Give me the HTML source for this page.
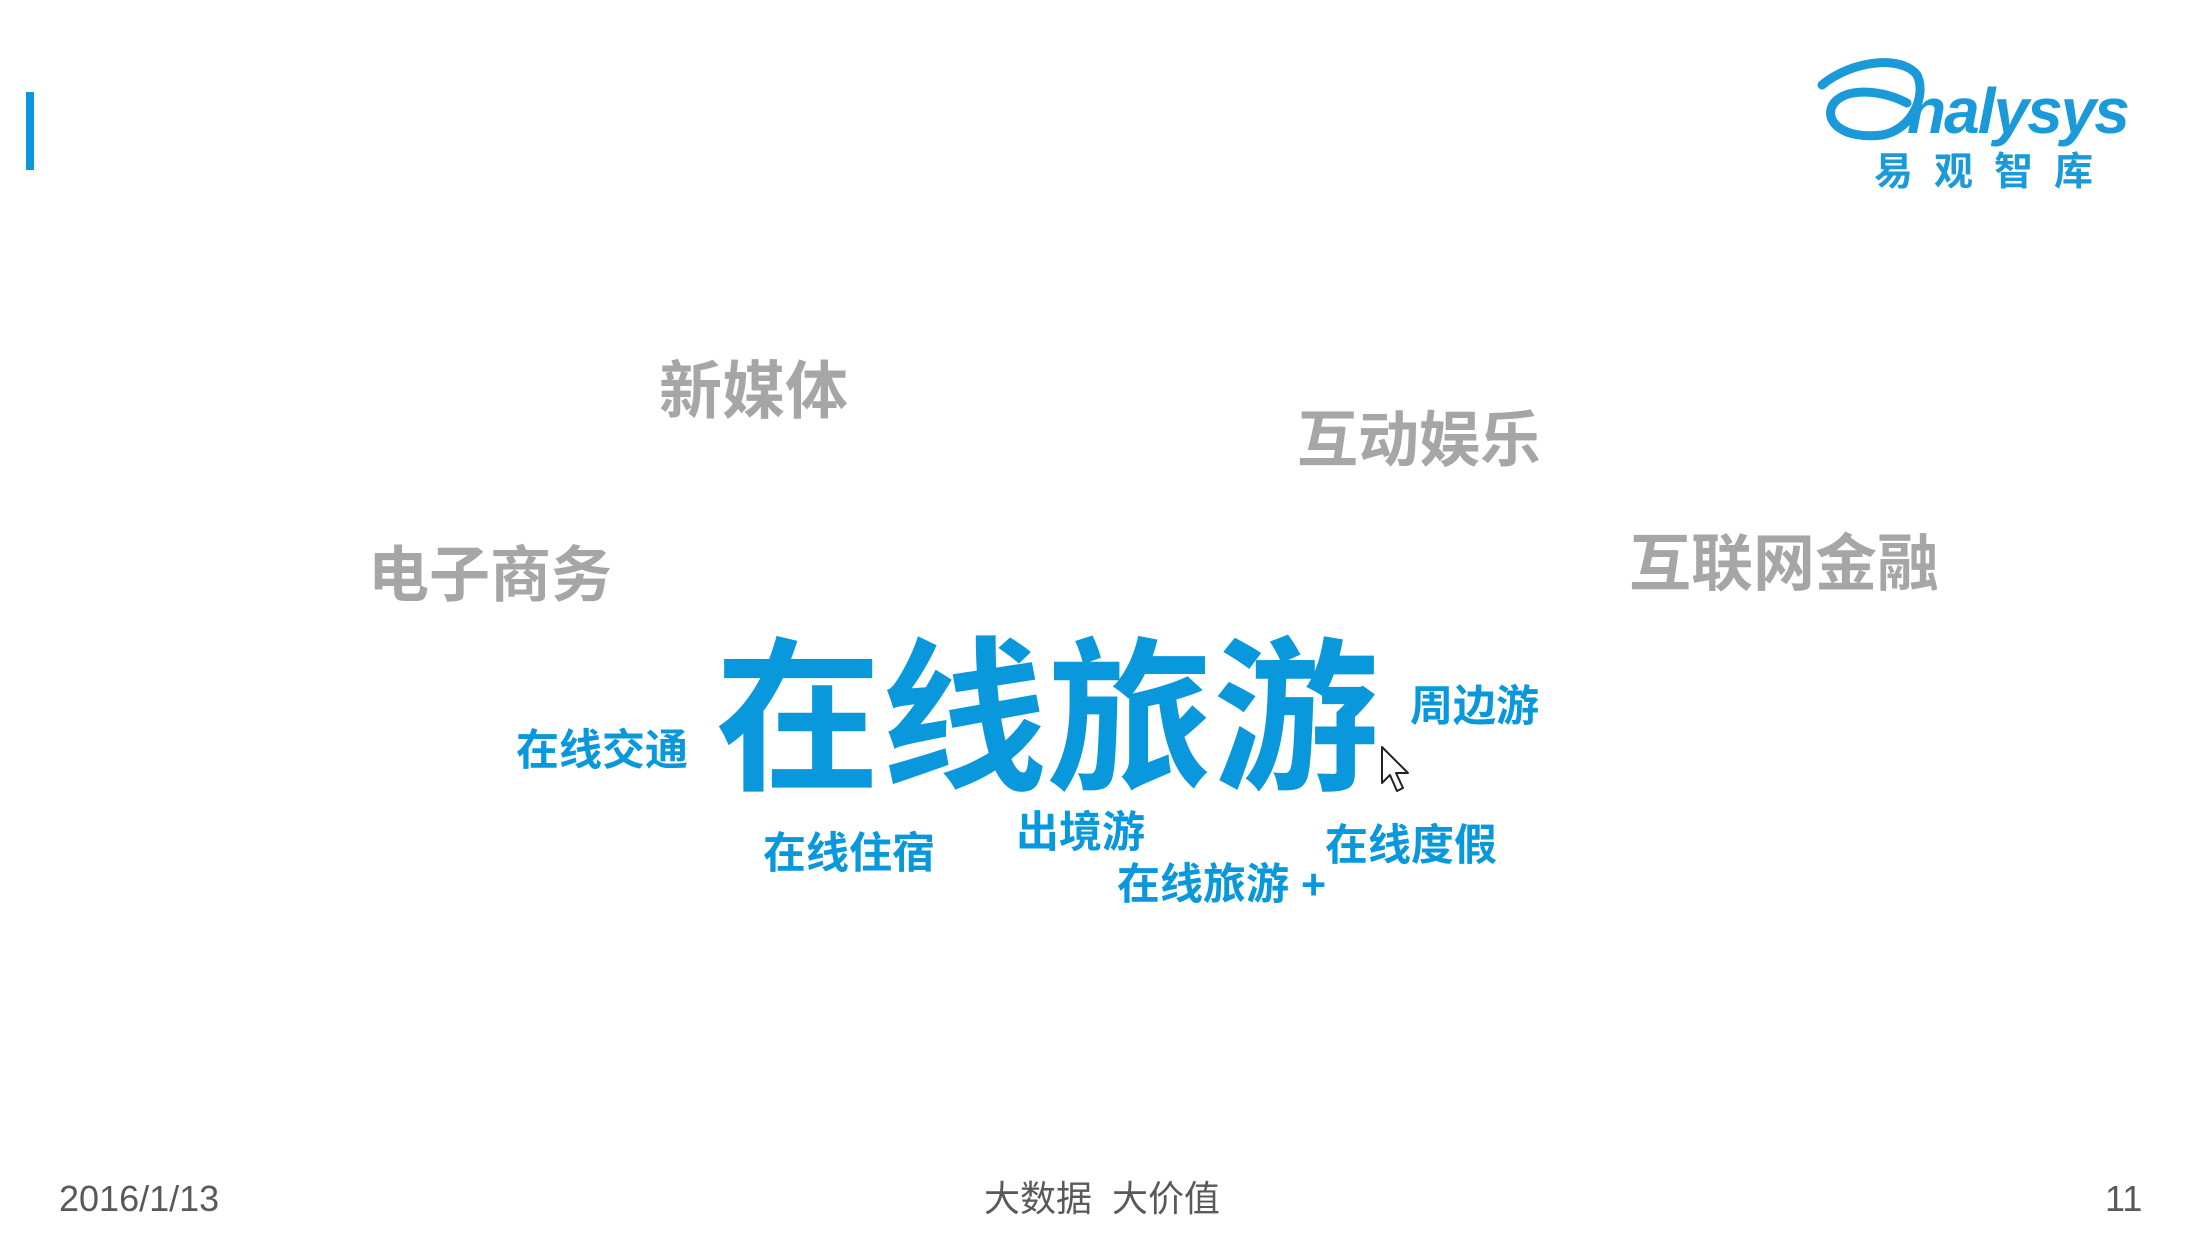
<!DOCTYPE html>
<html><head><meta charset="utf-8"><style>
html,body{margin:0;padding:0;}
body{width:2200px;height:1238px;position:relative;background:#fff;overflow:hidden;font-family:"Liberation Sans","Noto Sans CJK SC",sans-serif;}
.t{position:absolute;line-height:1;white-space:nowrap;font-weight:bold;font-family:"Liberation Sans","Noto Sans CJK SC",sans-serif;}
.g{color:#a6a6a6;}
.b{color:#0a98dc;}
.f{position:absolute;line-height:1;color:#595959;font-size:36px;white-space:nowrap;}
</style></head><body>
<div style="position:absolute;left:26px;top:92px;width:8px;height:78px;background:#0a98dc"></div>

<svg style="position:absolute;left:1812px;top:55px" width="330" height="145" viewBox="0 0 330 145">
  <path d="M10 30 C40 5,90 0,105 20 C115 40,100 75,70 80 C30 85,10 65,22 48 C35 32,70 35,95 48" fill="none" stroke="#1a9ad9" stroke-width="9" stroke-linecap="round"/>
  <text x="95" y="78" font-family="Liberation Sans, sans-serif" font-size="64" font-style="italic" font-weight="bold" fill="#1a9ad9" letter-spacing="-2">nalysys</text>
  <text x="62" y="130" font-family="Liberation Sans, Noto Sans CJK SC, sans-serif" font-size="39" font-weight="bold" fill="#1a9ad9" letter-spacing="21">易观智库</text>
</svg>

<div class="t g" style="left:659px;top:361px;font-size:63px">新媒体</div>
<div class="t g" style="left:1297px;top:410px;font-size:61px">互动娱乐</div>
<div class="t g" style="left:368px;top:545px;font-size:61px">电子商务</div>
<div class="t g" style="left:1629px;top:534px;font-size:62px">互联网金融</div>

<div class="t b" style="left:715px;top:638px;font-size:166px">在线旅游</div>
<div class="t b" style="left:516px;top:730px;font-size:43px">在线交通</div>
<div class="t b" style="left:1410px;top:686px;font-size:43px">周边游</div>
<div class="t b" style="left:763px;top:833px;font-size:43px">在线住宿</div>
<div class="t b" style="left:1016px;top:812px;font-size:43px">出境游</div>
<div class="t b" style="left:1325px;top:825px;font-size:43px">在线度假</div>
<div class="t b" style="left:1117px;top:864px;font-size:43px">在线旅游 +</div>

<svg style="position:absolute;left:1380px;top:745px" width="34" height="52" viewBox="0 0 34 52">
  <path d="M2 2 L2 38 L10 30 L17 46 L23 43 L16 28 L28 28 Z" fill="#fff" stroke="#222" stroke-width="2" stroke-linejoin="round"/>
</svg>

<div class="f" style="left:59px;top:1181px">2016/1/13</div>
<div class="f" style="left:984px;top:1181px">大数据&nbsp;&nbsp;大价值</div>
<div class="f" style="left:2105px;top:1181px">11</div>
</body></html>
